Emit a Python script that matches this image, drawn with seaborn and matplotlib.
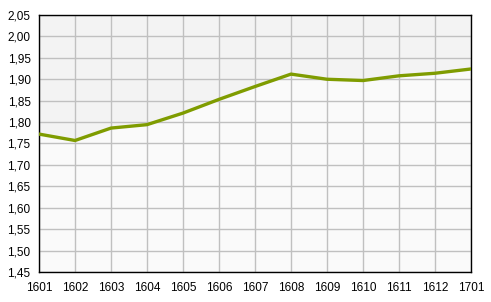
import matplotlib
matplotlib.use("Agg")
import matplotlib.pyplot as plt
import seaborn as sns
import pandas as pd
import numpy as np

periods = ["1601", "1602", "1603", "1604", "1605", "1606", "1607",
           "1608", "1609", "1610", "1611", "1612", "1701"]
values = [1.772, 1.757, 1.786, 1.794, 1.821, 1.853, 1.883,
          1.912, 1.900, 1.897, 1.908, 1.914, 1.924]
y_ticks = [1.45, 1.50, 1.55, 1.60, 1.65, 1.70, 1.75, 1.80, 1.85, 1.90, 1.95, 2.00, 2.05]

sns.set_theme(style="white")
plt.rcParams['font.family'] = ['Liberation Sans', 'DejaVu Sans']

df = pd.DataFrame({"idx": np.arange(len(periods)), "value": values})

fig = plt.figure(figsize=(4.91, 3.02), dpi=100)
ax = fig.add_axes([39/491, 1-272/302, 432/491, 257/302])
ax.set_facecolor("#fafafa")
ax.fill_between(df["idx"], df["value"], 2.05, color="#f3f3f3", zorder=0, linewidth=0)

sns.lineplot(data=df, x="idx", y="value", ax=ax, color="#7f9c00", linewidth=2.4, zorder=3)

ax.set_xlim(0, len(periods) - 1)
ax.set_ylim(1.45, 2.05)
ax.set_xticks(df["idx"])
ax.set_xticklabels(periods)
ax.set_yticks(y_ticks)
ax.set_yticklabels([f"{v:.2f}".replace(".", ",") for v in y_ticks])
ax.set_xlabel("")
ax.set_ylabel("")
ax.grid(True, color="#c0c0c0", linewidth=1.0, zorder=1)
ax.set_axisbelow(True)
for s in ax.spines.values():
    s.set_color("black")
    s.set_linewidth(1.0)
ax.tick_params(axis="both", which="both", direction="out", length=4, width=1,
               color="black", labelsize=8.5, labelcolor="#000000", pad=2)
ax.tick_params(axis="x", pad=3)

fig.savefig("out.png", dpi=100, facecolor="white")
